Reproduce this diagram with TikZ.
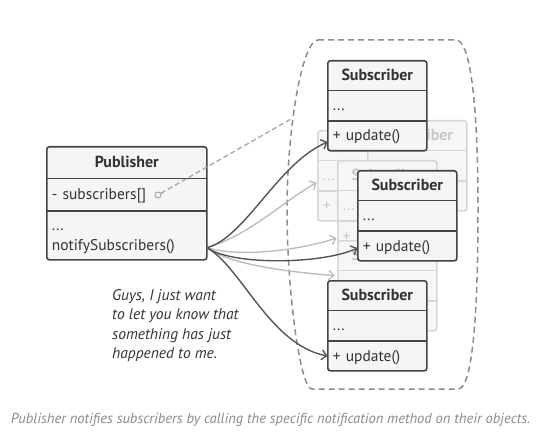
\documentclass[tikz,border=0pt]{standalone}
\usepackage{fontspec}
\setmainfont{PT Sans}
\usetikzlibrary{arrows.meta,calc}
\definecolor{dk}{HTML}{444444}
\definecolor{bx}{HTML}{F5F5F5}
\definecolor{tx}{HTML}{333333}
\definecolor{gl}{HTML}{D6D6D6}
\definecolor{gf}{HTML}{F6F6F6}
\definecolor{gt}{HTML}{C8C8C8}
\definecolor{ar}{HTML}{555555}
\definecolor{la}{HTML}{BDBDBD}
\definecolor{bd}{HTML}{8C8C8C}
\definecolor{cp}{HTML}{8A8A8A}
\tikzset{
  mainbox/.style={draw=dk, fill=bx, line width=1.6pt, rounded corners=2.5pt, minimum width=99pt, minimum height=90pt, inner sep=0pt},
  ghostbox/.style={mainbox, draw=gl, fill=gf},
  maintitle/.style={minimum width=99pt, minimum height=30pt, inner sep=0pt, font=\bfseries\fontsize{16}{18}\selectfont, text=tx},
  ghosttitle/.style={maintitle, text=gt},
  mainrow/.style={minimum height=30pt, text width=89pt, inner xsep=5pt, inner ysep=0pt, align=left, text height=12pt, text depth=2pt, font=\fontsize{15.5}{18}\selectfont, text=tx},
  ghostrow/.style={mainrow, text=gt},
  mainline/.style={draw=dk, line width=1.6pt},
  ghostline/.style={draw=gl, line width=1.6pt},
  darr/.style={draw=ar, line width=1.4pt, -{Straight Barb[length=5pt,width=10pt]}},
  larr/.style={darr, draw=la},
  bound/.style={draw=bd, line width=1.5pt, dash pattern=on 6pt off 4pt},
  aggline/.style={draw=bd!80, line width=1.3pt, dash pattern=on 5pt off 3pt},
}
\newcommand{\ubox}[3]{% name, top-left, kind
  \node[#3box, anchor=north west] (#1) at (#2) {};
  \node[#3title, anchor=north] (#1t) at (#1.north) {Subscriber};
  \node[#3row, anchor=north] (#1a) at (#1t.south) {...};
  \node[#3row, anchor=north] (#1b) at (#1a.south) {+ update()};
  \draw[#3line] (#1t.south west) -- (#1t.south east) (#1a.south west) -- (#1a.south east);
}
\begin{document}
\begin{tikzpicture}[x=1pt, y=-1pt]
\useasboundingbox (0,0) rectangle (541,441);
% group boundary
\draw[bound] (318,40) -- (456,40) .. controls (470,40) and (478,100) .. (478,210)
  .. controls (478,320) and (472,389) .. (458,389) -- (312,389)
  .. controls (300,389) and (287,290) .. (287,210)
  .. controls (287,130) and (302,40) .. (318,40) -- cycle;
\coordinate (aggend) at (291,119);
% ghost subscribers
\ubox{gb}{317,130}{ghost}
\ubox{ga}{367,120}{ghost}
\ubox{gc}{337,160}{ghost}
\ubox{gd}{337,240}{ghost}
% publisher
\node[mainbox, minimum width=160pt, minimum height=113pt, anchor=north west] (pub) at (46,146) {};
\node[maintitle, minimum width=160pt, minimum height=32pt, anchor=north] (pubt) at (pub.north) {Publisher};
\node[mainrow, text width=150pt, minimum height=32pt, anchor=north] (puba) at (pubt.south) {- subscribers[]};
\node[mainrow, text width=150pt, minimum height=0pt, anchor=base] (pubd) at ($(puba.base)+(0,31)$) {...};
\node[mainrow, text width=150pt, minimum height=0pt, anchor=base] (pubn) at ($(pubd.base)+(0,20)$) {notifySubscribers()};
\draw[mainline] (pubt.south west) -- (pubt.south east) (puba.south west) -- (puba.south east);
\node[circle, draw=bd!80, line width=1pt, minimum size=6pt, inner sep=0pt] (agg) at (158,195) {};
\draw[aggline] (agg) -- (aggend);
% light arrows
\draw[larr] ($(pubn.east)+(0,2)$) .. controls (250,235) and (285,200) .. ($(gba.west)+(-1,7)$);
\draw[larr] ($(pubn.east)+(0,2)$) .. controls (240,258) and (300,250) .. ($(gcb.west)+(-1,2)$);
\draw[larr] ($(pubn.east)+(0,2)$) .. controls (230,265) and (290,272) .. ($(gda.west)+(-3,-10)$);
% subscribers
\ubox{sa}{327,60}{main}
\ubox{sb}{357,170}{main}
\ubox{sc}{327,280}{main}
% dark arrows
\draw[darr] ($(pubn.east)+(0,2)$) .. controls (245,238) and (278,163) .. ($(sab.west)+(0,6)$);
\draw[darr] ($(pubn.east)+(0,2)$) .. controls (230,265) and (320,265) .. ($(sbb.west)+(0,2)$);
\draw[darr] ($(pubn.east)+(0,2)$) .. controls (242,268) and (270,345) .. (scb.west);
% speech
\node[anchor=north west, inner sep=0pt, align=left, text=tx, font=\itshape\fontsize{15.5}{19.4}\selectfont] (talk) at (112,289) {Guys, I just want\\to let you know that\\something has just\\happened to me.};
% caption
\node[anchor=base, inner sep=0pt, text=cp, font=\itshape\fontsize{14.5}{16}\selectfont] (cap) at (270.5,423) {Publisher notifies subscribers by calling the specific notification method on their objects.};
\end{tikzpicture}
\end{document}
